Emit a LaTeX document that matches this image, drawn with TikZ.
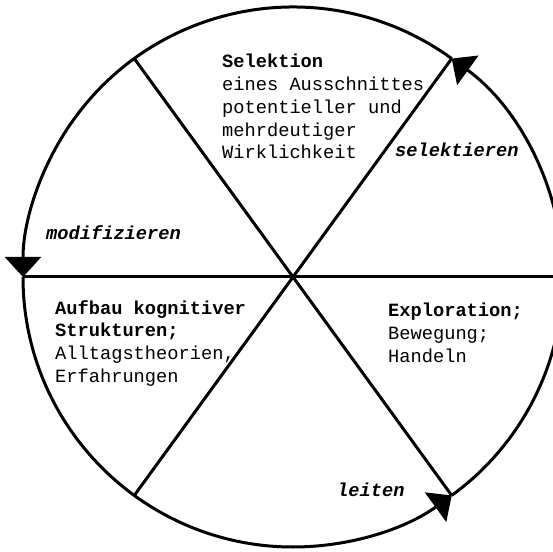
\documentclass[tikz,border=0pt]{standalone}
\usepackage{fontspec}
\usepackage{tikz}
\usetikzlibrary{calc, arrows.meta}
\newfontfamily\courier{Liberation Mono}

\begin{document}
\begin{tikzpicture}[x=1pt, y=1pt,
    ring/.style={line width=3pt},
    spoke/.style={line width=3pt},
    turn/.style={ring, -{Triangle[length=20pt, width=36pt]}},
    txt/.style={font=\courier\fontsize{18.7}{22.8}\selectfont, align=left, inner sep=0pt},
    verb/.style={font=\courier\bfseries\itshape\fontsize{18.7}{22.8}\selectfont, inner sep=0pt, anchor=base west}]
    \useasboundingbox (0,0) rectangle (553,551);

    % Centre and points on the circle
    \coordinate (c) at (293,274);
    \coordinate (p0) at ([shift={(0:270)}]c);
    \coordinate (p54) at ([shift={(54:270)}]c);
    \coordinate (p126) at ([shift={(126:270)}]c);
    \coordinate (p180) at ([shift={(180:270)}]c);
    \coordinate (p234) at ([shift={(234:270)}]c);
    \coordinate (p306) at ([shift={(306:270)}]c);

    % Spokes
    \draw[spoke] (p180) -- (p0);
    \draw[spoke] (p126) -- (p306);
    \draw[spoke] (p234) -- (p54);

    % Arcs (cycle)
    \draw[turn] (p306) arc[start angle=-54, end angle=54, radius=270];
    \draw[turn] (p54) arc[start angle=54, end angle=180, radius=270];
    \draw[turn] (p180) arc[start angle=180, end angle=306, radius=270];

    % Nodes
    \node[txt, anchor=north west] (Selektion) at (222,497) {
        \textbf{Selektion}\\
        eines Ausschnittes\\
        potentieller und\\
        mehrdeutiger\\
        Wirklichkeit
    };

    \node[txt, anchor=north west] (Aufbau) at (55,251) {
        \textbf{Aufbau kognitiver}\\
        \textbf{Strukturen;}\\
        Alltagstheorien,\\
        Erfahrungen
    };

    \node[txt, anchor=north west] (Exploration) at (388,248) {
        \textbf{Exploration;}\\
        Bewegung;\\
        Handeln
    };

    \node[verb] (selektieren) at (395,394) {selektieren};
    \node[verb] (modifizieren) at (46,311) {modifizieren};
    \node[verb] (leiten) at (337,55) {leiten};

\end{tikzpicture}
\end{document}
